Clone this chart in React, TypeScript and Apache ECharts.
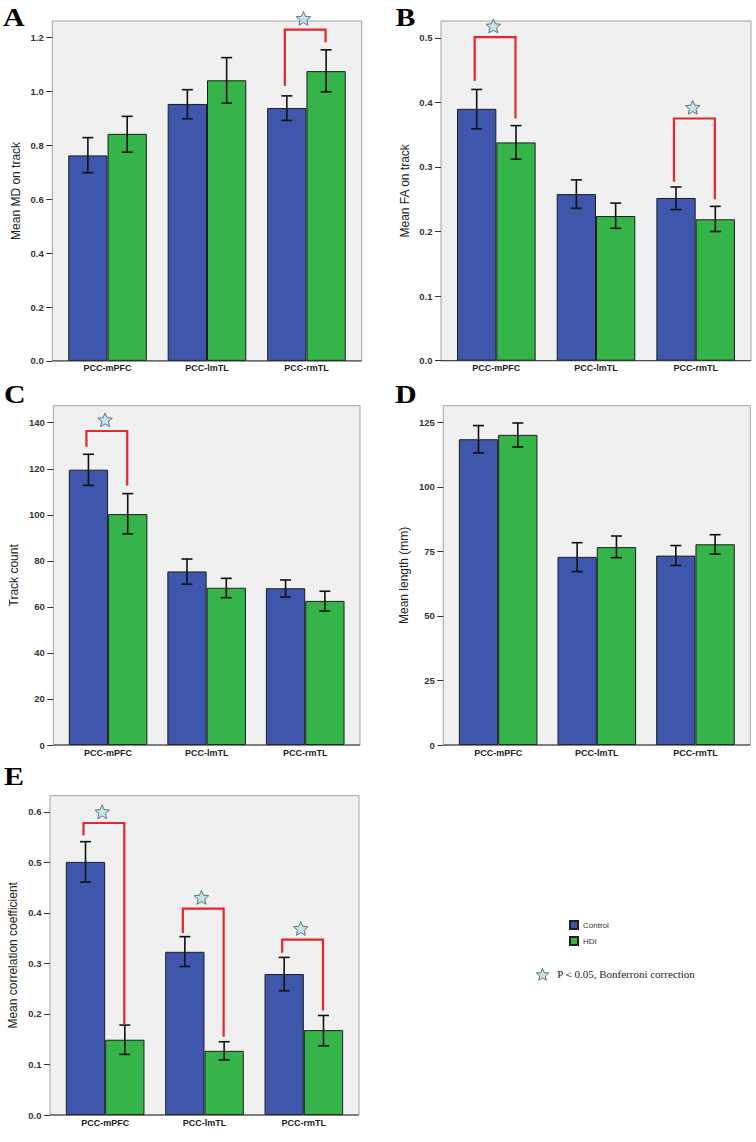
import React, { useEffect, useRef } from 'react';
import * as echarts from 'echarts';

// ---------- data ----------
const categories = ['PCC-mPFC', 'PCC-lmTL', 'PCC-rmTL'];

// A: Mean MD on track
const mdControl = [0.763, 0.954, 0.939];
const mdControlLo = [0.699, 0.899, 0.893];
const mdControlHi = [0.829, 1.007, 0.984];
const mdHDI = [0.843, 1.042, 1.076];
const mdHDILo = [0.775, 0.957, 0.999];
const mdHDIHi = [0.908, 1.126, 1.155];
const mdTicks = [0, 0.2, 0.4, 0.6, 0.8, 1.0, 1.2];
// [category, bracket top, left leg bottom, right leg bottom]
const mdSig = [[2, 1.23, 1.021, 1.183]];

// B: Mean FA on track
const faControl = [0.39, 0.258, 0.252];
const faControlLo = [0.359, 0.236, 0.234];
const faControlHi = [0.42, 0.28, 0.269];
const faHDI = [0.338, 0.224, 0.219];
const faHDILo = [0.312, 0.205, 0.2];
const faHDIHi = [0.364, 0.244, 0.239];
const faTicks = [0, 0.1, 0.2, 0.3, 0.4, 0.5];
const faSig = [[0, 0.501, 0.433, 0.375], [2, 0.375, 0.277, 0.25]];

// C: Track count
const tcControl = [119.6, 75.4, 68.1];
const tcControlLo = [112.8, 69.9, 64.3];
const tcControlHi = [126.3, 80.8, 71.7];
const tcHDI = [100.3, 68.3, 62.6];
const tcHDILo = [91.7, 64.0, 58.2];
const tcHDIHi = [109.2, 72.4, 66.8];
const tcTicks = [0, 20, 40, 60, 80, 100, 120, 140];
const tcSig = [[0, 136.4, 129.6, 112.7]];

// D: Mean length (mm)
const mlControl = [118.5, 72.9, 73.4];
const mlControlLo = [113.2, 67.2, 69.6];
const mlControlHi = [123.8, 78.4, 77.3];
const mlHDI = [120.2, 76.7, 77.8];
const mlHDILo = [115.5, 72.6, 74.0];
const mlHDIHi = [124.8, 81.0, 81.5];
const mlTicks = [0, 25, 50, 75, 100, 125];
const mlSig: number[][] = [];

// E: Mean correlation coefficient
const ccControl = [0.501, 0.323, 0.279];
const ccControlLo = [0.461, 0.294, 0.246];
const ccControlHi = [0.541, 0.353, 0.312];
const ccHDI = [0.149, 0.127, 0.168];
const ccHDILo = [0.12, 0.109, 0.137];
const ccHDIHi = [0.178, 0.145, 0.197];
const ccTicks = [0, 0.1, 0.2, 0.3, 0.4, 0.5, 0.6];
const ccSig = [[0, 0.578, 0.553, 0.18], [1, 0.4086, 0.36, 0.155], [2, 0.347, 0.321, 0.2066]];

const panels = [
  { letter: 'A', name: 'Mean MD on track', ctl: mdControl, ctlLo: mdControlLo, ctlHi: mdControlHi, hdi: mdHDI, hdiLo: mdHDILo, hdiHi: mdHDIHi, ticks: mdTicks, sig: mdSig, dec: 1 },
  { letter: 'B', name: 'Mean FA on track', ctl: faControl, ctlLo: faControlLo, ctlHi: faControlHi, hdi: faHDI, hdiLo: faHDILo, hdiHi: faHDIHi, ticks: faTicks, sig: faSig, dec: 1 },
  { letter: 'C', name: 'Track count', ctl: tcControl, ctlLo: tcControlLo, ctlHi: tcControlHi, hdi: tcHDI, hdiLo: tcHDILo, hdiHi: tcHDIHi, ticks: tcTicks, sig: tcSig, dec: 0 },
  { letter: 'D', name: 'Mean length (mm)', ctl: mlControl, ctlLo: mlControlLo, ctlHi: mlControlHi, hdi: mlHDI, hdiLo: mlHDILo, hdiHi: mlHDIHi, ticks: mlTicks, sig: mlSig, dec: 0 },
  { letter: 'E', name: 'Mean correlation coefficient', ctl: ccControl, ctlLo: ccControlLo, ctlHi: ccControlHi, hdi: ccHDI, hdiLo: ccHDILo, hdiHi: ccHDIHi, ticks: ccTicks, sig: ccSig, dec: 1 },
];

// ---------- layout ----------
// box: [left, top, right, bottom], yMax = value at the box top
const layout = [
  { box: [52.3, 21, 361.7, 360.9], yMax: 1.262, nameGap: 30, letterAt: [3, 16.7] },
  { box: [441, 21, 751, 360.7], yMax: 0.526, nameGap: 30.5, letterAt: [395.5, 17] },
  { box: [53.3, 405.7, 360, 745], yMax: 147.4, nameGap: 33, letterAt: [4, 394] },
  { box: [443.3, 405.7, 750.3, 745], yMax: 131.5, nameGap: 33, letterAt: [395, 393.7] },
  { box: [50, 795.7, 359, 1115], yMax: 0.632, nameGap: 31, letterAt: [4, 776] },
];

const INSET = 5.5;
const BAR_W = 39.3;
const BLUE = '#3e56ab';
const GREEN = '#35b44a';
const RED = '#e5262b';
const STAR_FILL = '#c3e3ea';
const STAR_STROKE = '#56666b';
const SANS = '"Liberation Sans", Arial, sans-serif';
const SERIF = '"Liberation Serif", "Times New Roman", serif';

function starPoints(cx: number, cy: number, R: number, r: number) {
  const pts: number[][] = [];
  for (let k = 0; k < 10; k++) {
    const a = -Math.PI / 2 + (k * Math.PI) / 5;
    const rr = k % 2 === 0 ? R : r;
    pts.push([cx + rr * Math.cos(a), cy + rr * Math.sin(a)]);
  }
  return pts;
}

function buildOption() {
  const grid: any[] = [];
  const xAxis: any[] = [];
  const yAxis: any[] = [];
  const series: any[] = [];
  const graphic: any[] = [];

  panels.forEach((p, i) => {
    const L = layout[i];
    const [bl, bt, br, bb] = L.box;
    grid.push({
      left: bl + INSET,
      top: bt,
      width: br - bl - 2 * INSET,
      height: bb - bt,
      outerBoundsMode: 'none',
      containLabel: false,
    });
    xAxis.push({
      gridIndex: i,
      type: 'category',
      data: categories,
      axisLine: { show: false },
      axisTick: { show: false },
      axisLabel: { interval: 0, fontSize: 9, fontWeight: 'bold', color: '#222', margin: 3, fontFamily: SANS },
      splitLine: { show: false },
    });
    yAxis.push({
      gridIndex: i,
      type: 'value',
      min: 0,
      max: L.yMax,
      offset: INSET,
      axisLine: { show: false },
      axisTick: { show: true, length: 6, customValues: p.ticks, lineStyle: { color: '#333', width: 1 } },
      axisLabel: {
        customValues: p.ticks,
        formatter: (v: number) => v.toFixed(p.dec),
        fontSize: 9.5,
        fontWeight: 'bold',
        color: '#333',
        margin: 8.5,
        fontFamily: SANS,
      },
      splitLine: { show: false },
      name: p.name,
      nameLocation: 'middle',
      nameGap: L.nameGap,
      nameTextStyle: { fontSize: 12, color: '#222', fontFamily: SANS },
    });

    series.push({
      type: 'bar',
      name: 'Control',
      xAxisIndex: i,
      yAxisIndex: i,
      barWidth: BAR_W,
      barGap: '0%',
      itemStyle: { color: BLUE, borderColor: '#1e1e1e', borderWidth: 1 },
      data: p.ctl,
      z: 2,
    });
    series.push({
      type: 'bar',
      name: 'HDI',
      xAxisIndex: i,
      yAxisIndex: i,
      barWidth: BAR_W,
      barGap: '0%',
      itemStyle: { color: GREEN, borderColor: '#1e1e1e', borderWidth: 1 },
      data: p.hdi,
      z: 2,
    });

    const errSeries = (lo: number[], hi: number[], sign: number) => ({
      type: 'custom',
      name: 'err',
      xAxisIndex: i,
      yAxisIndex: i,
      silent: true,
      z: 5,
      encode: { x: 0, y: [1, 2] },
      data: lo.map((v, k) => [k, v, hi[k]]),
      renderItem: (params: any, api: any) => {
        const c = api.value(0);
        const a = api.coord([c, api.value(1)]);
        const b = api.coord([c, api.value(2)]);
        const x = a[0] + (sign * BAR_W) / 2;
        const hw = 5.5;
        const style = { stroke: '#111', lineWidth: 1.6 };
        return {
          type: 'group',
          children: [
            { type: 'line', shape: { x1: x, y1: a[1], x2: x, y2: b[1] }, style },
            { type: 'line', shape: { x1: x - hw, y1: a[1], x2: x + hw, y2: a[1] }, style },
            { type: 'line', shape: { x1: x - hw, y1: b[1], x2: x + hw, y2: b[1] }, style },
          ],
        };
      },
    });
    series.push(errSeries(p.ctlLo, p.ctlHi, -1));
    series.push(errSeries(p.hdiLo, p.hdiHi, 1));

    if (p.sig.length) {
      series.push({
        type: 'custom',
        name: 'sig',
        xAxisIndex: i,
        yAxisIndex: i,
        silent: true,
        clip: false,
        z: 6,
        encode: { x: 0, y: [1, 2, 3] },
        data: p.sig,
        renderItem: (params: any, api: any) => {
          const c = api.value(0);
          const top = api.coord([c, api.value(1)]);
          const lb = api.coord([c, api.value(2)]);
          const rb = api.coord([c, api.value(3)]);
          const xl = top[0] - BAR_W / 2 - 2;
          const xr = top[0] + BAR_W / 2 - 0.5;
          return {
            type: 'group',
            children: [
              {
                type: 'polyline',
                shape: { points: [[xl, lb[1]], [xl, top[1]], [xr, top[1]], [xr, rb[1]]] },
                style: { stroke: RED, lineWidth: 2.2, fill: 'none' },
              },
              {
                type: 'polygon',
                shape: { points: starPoints(top[0] - 3, top[1] - 10.5, 7.6, 3.5) },
                style: { fill: STAR_FILL, stroke: STAR_STROKE, lineWidth: 0.9 },
              },
            ],
          };
        },
      });
    }

    graphic.push({
      type: 'rect',
      z: -10,
      silent: true,
      shape: { x: bl, y: bt, width: br - bl, height: bb - bt },
      style: { fill: '#f0f0f0', stroke: '#a3a3a3', lineWidth: 1 },
    });
    graphic.push({
      type: 'line',
      z: 10,
      silent: true,
      shape: { x1: bl, y1: bb, x2: br, y2: bb },
      style: { stroke: '#333', lineWidth: 1 },
    });
    graphic.push({
      type: 'text',
      x: L.letterAt[0],
      y: L.letterAt[1],
      scaleX: 1.15,
      style: {
        text: p.letter,
        font: `bold 26px ${SERIF}`,
        fill: '#000',
        textAlign: 'left',
        textVerticalAlign: 'middle',
        verticalAlign: 'middle',
      },
    });
  });

  graphic.push({
    type: 'polygon',
    silent: true,
    shape: { points: starPoints(542.5, 975, 6.5, 3) },
    style: { fill: STAR_FILL, stroke: STAR_STROKE, lineWidth: 0.9 },
  });
  graphic.push({
    type: 'text',
    x: 557.3,
    y: 974,
    style: {
      text: 'P＜0.05, Bonferroni correction',
      font: `11px ${SERIF}`,
      fill: '#222',
      textAlign: 'left',
      textVerticalAlign: 'middle',
      verticalAlign: 'middle',
    },
  });

  return {
    animation: false,
    backgroundColor: '#ffffff',
    legend: {
      data: ['Control', 'HDI'],
      orient: 'vertical',
      left: 569,
      top: 920,
      itemWidth: 8,
      itemHeight: 8,
      itemGap: 6,
      padding: 0,
      selectedMode: false,
      icon: 'rect',
      textStyle: { fontSize: 8, color: '#333', fontFamily: SANS },
    },
    grid,
    xAxis,
    yAxis,
    series,
    graphic,
  };
}

export default function App() {
  const ref = useRef<HTMLDivElement>(null);
  useEffect(() => {
    if (!ref.current) return;
    const chart = echarts.init(ref.current, undefined, { renderer: 'svg' });
    chart.setOption(buildOption() as any);
    return () => chart.dispose();
  }, []);
  return (
    <div
      ref={ref}
      style={{ position: 'absolute', left: 0, top: 0, width: 756, height: 1142, background: '#fff' }}
    />
  );
}
